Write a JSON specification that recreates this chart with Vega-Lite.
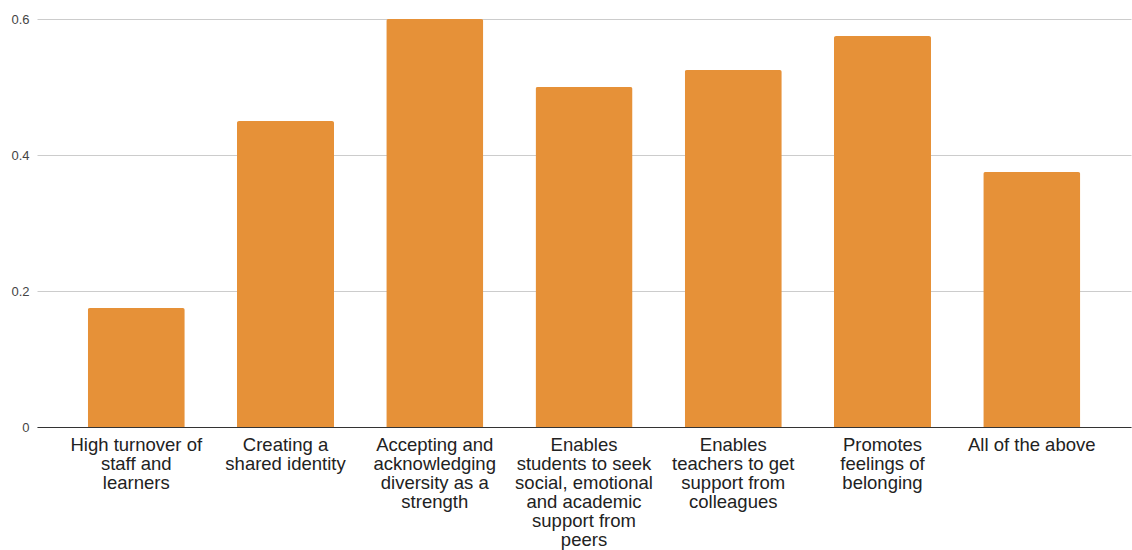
{
  "$schema": "https://vega.github.io/schema/vega-lite/v6.json",
  "autosize": "none",
  "width": 1094,
  "height": 408,
  "padding": {"left": 37, "top": 19, "right": 1, "bottom": 123},
  "background": "white",
  "data": {
    "values": [
      {"category": "High turnover of\nstaff and\nlearners", "share": 0.175},
      {"category": "Creating a\nshared identity", "share": 0.45},
      {"category": "Accepting and\nacknowledging\ndiversity as a\nstrength", "share": 0.6},
      {"category": "Enables\nstudents to seek\nsocial, emotional\nand academic\nsupport from\npeers", "share": 0.5},
      {"category": "Enables\nteachers to get\nsupport from\ncolleagues", "share": 0.525},
      {"category": "Promotes\nfeelings of\nbelonging", "share": 0.575},
      {"category": "All of the above", "share": 0.375}
    ]
  },
  "mark": {"type": "bar", "color": "#e69138", "cornerRadiusTopLeft": 2, "cornerRadiusTopRight": 2},
  "encoding": {
    "x": {
      "field": "category",
      "type": "nominal",
      "sort": null,
      "scale": {"paddingInner": 0.35, "paddingOuter": 0.34},
      "axis": {
        "title": null,
        "labelAngle": 0,
        "labelExpr": "split(datum.value, '\\n')",
        "labelFont": "Liberation Sans",
        "labelFontSize": 18.5,
        "labelLineHeight": 19,
        "labelColor": "#222222",
        "labelPadding": 8,
        "labelLimit": 0,
        "ticks": false,
        "domainColor": "#333333",
        "domainWidth": 1,
        "grid": false
      }
    },
    "y": {
      "field": "share",
      "type": "quantitative",
      "scale": {"domain": [0, 0.6], "nice": false},
      "axis": {
        "title": null,
        "values": [0, 0.2, 0.4, 0.6],
        "format": "~g",
        "labelFont": "Liberation Sans",
        "labelFontSize": 13,
        "labelColor": "#444444",
        "labelPadding": 8,
        "ticks": false,
        "domain": false,
        "gridColor": "#cccccc",
        "gridWidth": 1
      }
    }
  },
  "config": {"view": {"stroke": null}}
}
